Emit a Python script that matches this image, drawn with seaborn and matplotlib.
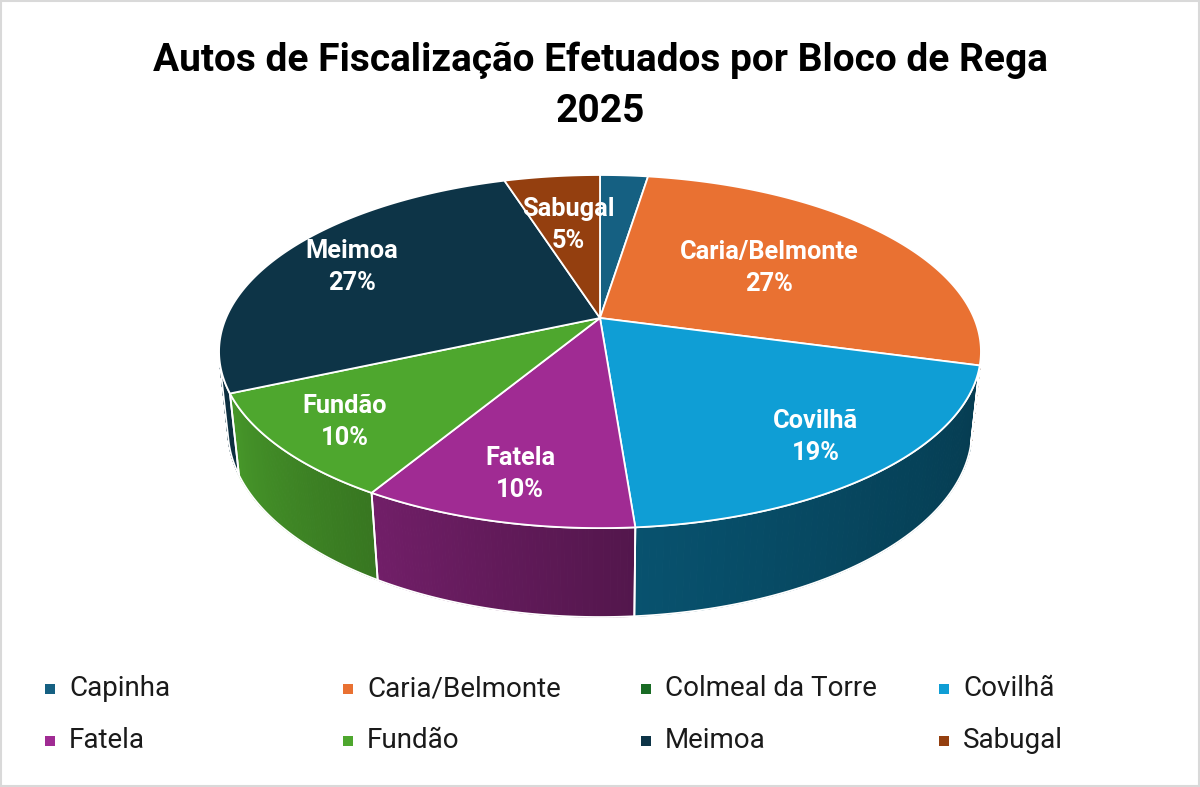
import numpy as np
import pandas as pd
import matplotlib
matplotlib.use("Agg")
import matplotlib.pyplot as plt
from matplotlib.patches import Polygon, Rectangle
import matplotlib.colors as mcolors
import seaborn as sns

# ---------------- data ----------------
title_line1 = "Autos de Fiscalização Efetuados por Bloco de Rega"
title_line2 = "2025"
categories = ["Capinha", "Caria/Belmonte", "Colmeal da Torre", "Covilhã",
              "Fatela", "Fundão", "Meimoa", "Sabugal"]
counts = [1, 11, 0, 8, 4, 4, 11, 2]
pct_labels = ["", "27%", "", "19%", "10%", "10%", "27%", "5%"]
colors = ["#156082", "#E97132", "#196B24", "#0F9ED5",
          "#A02B93", "#4EA72E", "#0D3447", "#943F0F"]

# ---------------- style ----------------
sns.set_theme(style="white")
plt.rcParams['font.family'] = ['Roboto', 'DejaVu Sans']
palette = sns.color_palette(colors)

df = pd.DataFrame({"name": categories, "n": counts, "pct": pct_labels})
df["frac"] = df["n"] / df["n"].sum()
df["end"] = df["frac"].cumsum()
df["start"] = df["end"] - df["frac"]
df["t0"] = 90 - 360 * df["start"]   # slices go clockwise from 12 o'clock
df["t1"] = 90 - 360 * df["end"]

label_radius = [0.8, 0.57, 0.8, 0.8, 0.8, 0.82, 0.77, 0.62]

W, H = 1200, 787
fig = plt.figure(figsize=(12, 7.87), dpi=100)
ax = fig.add_axes([0, 0, 1, 1])
ax.set_xlim(0, W)
ax.set_ylim(H, 0)
ax.axis('off')

# perspective projection of a 3D pie
CX, CY, S = 600, 318, 374
SE = 0.455
CE = np.sqrt(1 - SE ** 2)
DIST = CE / 0.19
DEPTH = 0.237


def proj(theta_deg, r=1.0, z=0.0):
    t = np.radians(np.atleast_1d(theta_deg))
    X = r * np.cos(t)
    Y = r * np.sin(t)
    v = Y * SE + z * CE
    w = Y * CE - z * SE
    d = 1 + w / DIST
    return np.column_stack([CX + S * X / d, CY - S * v / d])


lim = np.degrees(np.arcsin(1 / (DIST * CE)))
vis_hi, vis_lo = -lim, -180 + lim

shade_t = [-170, -155, -121, -86, -50, -10]
shade_f = [0.92, 0.90, 0.71, 0.52, 0.43, 0.37]

# side walls
for i, row in df.iterrows():
    if row["frac"] <= 0:
        continue
    hi = min(row["t0"], vis_hi)
    lo = max(row["t1"], vis_lo)
    if lo >= hi:
        continue
    base = np.array(mcolors.to_rgb(palette[i]))
    ts = np.linspace(hi, lo, 80)
    top = proj(ts, 1.0, 0.0)
    bot = proj(ts, 1.0, -DEPTH)
    for k in range(len(ts) - 1):
        f = np.interp((ts[k] + ts[k + 1]) / 2, shade_t, shade_f)
        c = np.clip(base * f, 0, 1)
        quad = np.array([top[k], top[k + 1], bot[k + 1], bot[k]])
        ax.add_patch(Polygon(quad, closed=True, facecolor=c, edgecolor=c,
                             lw=0.8, zorder=1))
    outline = np.vstack([top, bot[::-1]])
    ax.add_patch(Polygon(outline, closed=True, facecolor='none',
                         edgecolor='white', lw=1.3, zorder=2))

# top faces
for i, row in df.iterrows():
    if row["frac"] <= 0:
        continue
    ts = np.linspace(row["t0"], row["t1"], max(int(abs(row["t0"] - row["t1"])) * 2, 4))
    arc = proj(ts, 1.0, 0.0)
    poly = np.vstack([proj(0, 0.0, 0.0), arc])
    ax.add_patch(Polygon(poly, closed=True, facecolor=palette[i],
                         edgecolor='white', lw=1.3, zorder=3))

# data labels
for i, row in df.iterrows():
    if row["pct"] == "":
        continue
    mid = (row["t0"] + row["t1"]) / 2
    p = proj(mid, label_radius[i], 0.0)[0]
    ax.text(p[0], p[1], f"{row['name']}\n{row['pct']}", color='white',
            fontsize=18.3, fontweight='bold', ha='center', va='center',
            linespacing=1.42, zorder=5)

# title
fig.text(0.5, 1 - 60 / H, title_line1, ha='center', va='center',
         fontsize=28, fontweight='bold', color='black')
fig.text(0.5, 1 - 111 / H, title_line2, ha='center', va='center',
         fontsize=28, fontweight='bold', color='black')

# legend (2 rows x 4 columns)
for i, cat in enumerate(categories):
    r, c = divmod(i, 4)
    x = 50 + 298 * c
    y = 689 + 52 * r
    ax.add_patch(Rectangle((x - 5, y - 5), 10, 10, facecolor=palette[i],
                           edgecolor='none', zorder=5))
    ax.text(x + 19, y, cat, fontsize=20, color='#1a1a1a',
            ha='left', va='center', zorder=5)

# chart border
fig.patches.append(Rectangle((0.001, 0.001), 0.998, 0.998, transform=fig.transFigure,
                             facecolor='none', edgecolor='#d9d9d9', lw=1.5))

fig.savefig("out.png", dpi=100, facecolor='white')
